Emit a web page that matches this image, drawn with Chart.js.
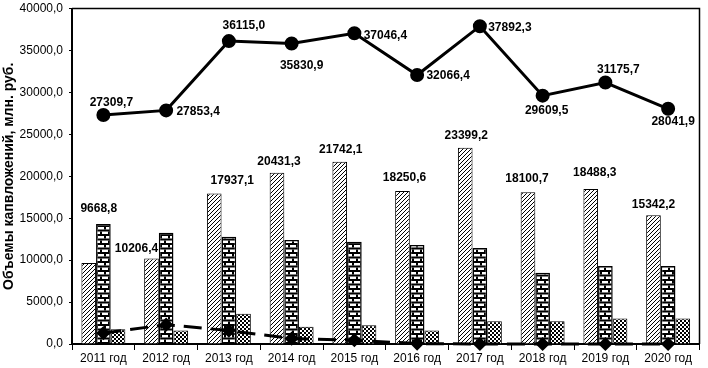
<!DOCTYPE html>
<html>
<head>
<meta charset="utf-8">
<script src="https://cdn.jsdelivr.net/npm/chart.js@4/dist/chart.umd.min.js"></script>
<style>
  body { margin: 0; background: #fff; }
  canvas { display: block; }
</style>
</head>
<body>
<canvas id="capChart" width="708" height="368"></canvas>
<script>
// Объемы капвложений по годам
const years = ["2011 год", "2012 год", "2013 год", "2014 год", "2015 год",
               "2016 год", "2017 год", "2018 год", "2019 год", "2020 год"];

const hatchedValues = [9668.8, 10206.4, 17937.1, 20431.3, 21742.1, 18250.6, 23399.2, 18100.7, 18488.3, 15342.2];
const brickValues = [14300, 13250, 12800, 12400, 12200, 11800, 11450, 8500, 9300, 9300];
const checkerValues = [1750, 1600, 3600, 2050, 2250, 1600, 2700, 2700, 3050, 3050];
const totalValues = [27309.7, 27853.4, 36115.0, 35830.9, 37046.4, 32066.4, 37892.3, 29609.5, 31175.7, 28041.9];
const dashedValues = [1300, 2300, 1600, 650, 450, 50, 0, 0, 0, 0];

const yTicks = [0, 5000, 10000, 15000, 20000, 25000, 30000, 35000, 40000];

// смещения подписей (px) относительно точки / верха столбца
const totalLabelDx = [8, 32, 15, 10, 31, 31, 30, 4, 13, 5];
const totalLabelDy = [-12, 1, -15, 22, 2, 1, 2, 15, -13, 13];
const barLabelDx = [10, -15, 18, 2, 1, 2, 1, -1, 4, 0];
const barLabelDy = [-54, -10, -13, -11, -12, -13, -12, -13, -16, -11];

const FONT = "'Liberation Sans', Arial, sans-serif";

function fmt(v) {
    return v.toFixed(1).replace(".", ",");
}

function makePattern(w, h, draw) {
    const c = document.createElement("canvas");
    c.width = w;
    c.height = h;
    const g = c.getContext("2d");
    g.fillStyle = "#fff";
    g.fillRect(0, 0, w, h);
    g.fillStyle = "#000";
    draw(g);
    return g.createPattern(c, "repeat");
}

// косая штриховка: пиксельная диагональ
const hatchPattern = makePattern(4, 4, g => {
    for (let x = 0; x < 4; x++) {
        g.fillRect(x, 3 - x, 1, 1);
    }
});

const brickPattern = makePattern(8, 9, g => {
    g.fillRect(0, 0, 8, 2);
    g.fillRect(0, 4.5, 8, 2);
    g.fillRect(0, 2, 2, 2.5);
    g.fillRect(4, 6.5, 2, 2.5);
});

const checkerPattern = makePattern(4, 4, g => {
    g.fillRect(0, 0, 2, 2);
    g.fillRect(2, 2, 2, 2);
});

const frame = {
    id: "frame",
    beforeDatasetsDraw(chart) {
        const a = chart.chartArea;
        const ctx = chart.ctx;
        ctx.save();
        ctx.strokeStyle = "#000";
        ctx.lineWidth = 1.5;
        ctx.beginPath();
        ctx.moveTo(a.left, a.top);
        ctx.lineTo(a.right, a.top);
        ctx.lineTo(a.right, a.bottom);
        ctx.stroke();
        ctx.restore();
    }
};

const valueLabels = {
    id: "valueLabels",
    afterDatasetsDraw(chart) {
        const ctx = chart.ctx;
        ctx.save();
        ctx.fillStyle = "#000";
        ctx.font = "bold 12px " + FONT;
        ctx.textAlign = "center";
        ctx.textBaseline = "middle";
        chart.getDatasetMeta(3).data.forEach((p, i) => {
            ctx.fillText(fmt(totalValues[i]), p.x + totalLabelDx[i], p.y + totalLabelDy[i]);
        });
        chart.getDatasetMeta(0).data.forEach((b, i) => {
            ctx.fillText(fmt(hatchedValues[i]), b.x + barLabelDx[i], b.y + barLabelDy[i]);
        });
        ctx.restore();
    }
};

const capChart = new Chart(document.getElementById("capChart"), {
    type: "bar",
    data: {
        labels: years,
        datasets: [
            {
                data: hatchedValues,
                backgroundColor: hatchPattern,
                borderColor: "#000",
                borderWidth: 1,
                order: 2,
            },
            {
                data: brickValues,
                backgroundColor: brickPattern,
                borderColor: "#000",
                borderWidth: 1.5,
                order: 2,
            },
            {
                data: checkerValues,
                backgroundColor: checkerPattern,
                borderColor: "#000",
                borderWidth: 1,
                order: 2,
            },
            {
                type: "line",
                data: totalValues,
                borderColor: "#000",
                borderWidth: 3,
                pointRadius: 5.5,
                pointBackgroundColor: "#000",
                pointBorderColor: "#000",
                tension: 0,
                order: 1,
            },
            {
                type: "line",
                data: dashedValues,
                borderColor: "#000",
                borderWidth: 3,
                borderDash: [18, 9],
                pointStyle: "rectRot",
                pointRadius: 5,
                pointBackgroundColor: "#000",
                pointBorderColor: "#000",
                tension: 0,
                clip: false,
                order: 1,
            },
        ],
    },
    options: {
        responsive: false,
        animation: false,
        categoryPercentage: 0.7,
        barPercentage: 1,
        layout: { padding: { top: 4, right: 2, left: 0, bottom: 0 } },
        plugins: {
            legend: { display: false },
            tooltip: { enabled: false },
        },
        scales: {
            x: {
                afterFit: s => { s.height = 24; s.paddingLeft = 0; s.paddingRight = 0; },
                grid: {
                    offset: true,
                    drawOnChartArea: false,
                    drawTicks: true,
                    tickLength: 6,
                    tickColor: "#000",
                    tickWidth: 1,
                },
                border: { color: "#000", width: 2 },
                ticks: {
                    color: "#000",
                    font: { family: FONT, size: 12 },
                    padding: 1,
                    maxRotation: 0,
                    autoSkip: false,
                },
            },
            y: {
                min: 0,
                max: 40000,
                afterFit: s => { s.width = 72; s.paddingTop = 0; s.paddingBottom = 0; },
                afterBuildTicks: s => { s.ticks = yTicks.map(v => ({ value: v })); },
                grid: {
                    drawOnChartArea: false,
                    drawTicks: true,
                    tickLength: 3,
                    tickColor: "#000",
                },
                border: { color: "#000", width: 2 },
                ticks: {
                    color: "#000",
                    font: { family: FONT, size: 12 },
                    padding: 6,
                    callback: v => fmt(v),
                },
                title: {
                    display: true,
                    text: "Объемы капвложений, млн. руб.",
                    color: "#000",
                    font: { family: FONT, size: 14, weight: "bold" },
                    padding: 1,
                },
            },
        },
    },
    plugins: [frame, valueLabels],
});
</script>
</body>
</html>
